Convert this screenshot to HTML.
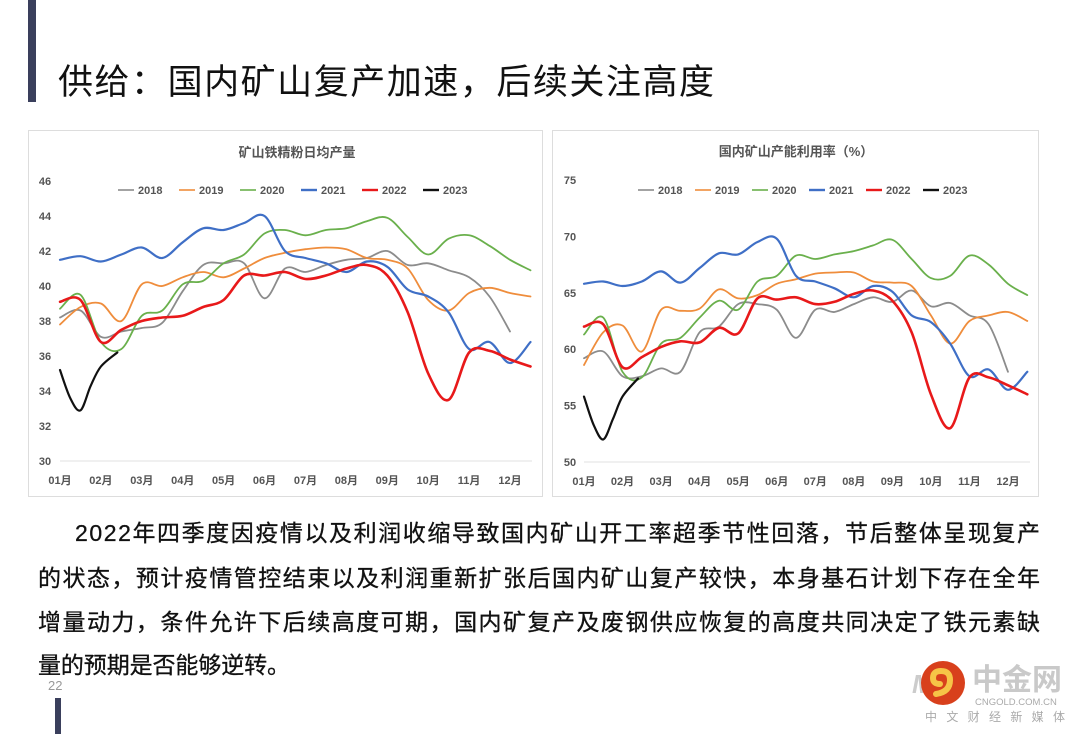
<!DOCTYPE html>
<html><head><meta charset="utf-8">
<style>
html,body{margin:0;padding:0;background:#fff;}
svg{display:block;font-family:"Liberation Sans","Noto Sans CJK SC",sans-serif;}
</style></head>
<body>
<svg id="page" width="1080" height="734" viewBox="0 0 1080 734">
  <rect x="28" y="0" width="8" height="102" fill="#3a3f5c"/>
  <text x="58" y="94" font-size="35" fill="#111" textLength="656">供给：国内矿山复产加速，后续关注高度</text>

  <rect x="28.5" y="130.5" width="514" height="366" fill="#fff" stroke="#ddd"/>
  <rect x="552.5" y="130.5" width="486" height="366" fill="#fff" stroke="#ddd"/>
  <g id="leftChart"></g>
  <g id="rightChart"></g>

  <g font-size="23" fill="#111" stroke="#111" stroke-width="0.3">
    <text x="75" y="541" textLength="965" lengthAdjust="spacing">2022年四季度因疫情以及利润收缩导致国内矿山开工率超季节性回落，节后整体呈现复产</text>
    <text x="38" y="586" textLength="1002" lengthAdjust="spacing">的状态，预计疫情管控结束以及利润重新扩张后国内矿山复产较快，本身基石计划下存在全年</text>
    <text x="38" y="630" textLength="1002" lengthAdjust="spacing">增量动力，条件允许下后续高度可期，国内矿复产及废钢供应恢复的高度共同决定了铁元素缺</text>
    <text x="38" y="673" textLength="252" lengthAdjust="spacing">量的预期是否能够逆转。</text>
  </g>
  <text x="48" y="690" font-size="13" fill="#999">22</text>
  <rect x="55" y="698" width="6" height="36" fill="#3a3f5c"/>

  <g>
    <text x="912" y="693" font-size="26" font-style="italic" font-weight="bold" fill="#ccc">M</text>
    <circle cx="943" cy="683" r="22" fill="#d8401c"/>
    <path d="M936 694 q14 -2 14 -14 q0 -9 -9 -9 q-8 0 -8 7 q0 6 7 6" fill="none" stroke="#f6c447" stroke-width="6" stroke-linecap="round"/>
    <text x="972" y="690" font-size="30" font-weight="bold" fill="#c9c9c9">中金网</text>
    <text x="975" y="705" font-size="9.5" fill="#aaa">CNGOLD.COM.CN</text>
    <text x="925" y="721" font-size="12" fill="#aaa" textLength="140">中文财经新媒体</text>
  </g>
</svg>

<script>
// ---------- data: left chart (矿山铁精粉日均产量) ----------
const months = ["01月","02月","03月","04月","05月","06月","07月","08月","09月","10月","11月","12月"];
const seriesNames = ["2018","2019","2020","2021","2022","2023"];
const seriesColors = ["#8c8c8c","#ef8d3c","#6ab04c","#3f6fc6","#e8191a","#111111"];
const seriesWidths = [1.8,1.8,1.8,2.2,2.6,2.2];
const halfMonthX = [0,0.5,1,1.5,2,2.5,3,3.5,4,4.5,5,5.5,6,6.5,7,7.5,8,8.5,9,9.5,10,10.5,11,11.5];
const x2023 = [0,0.25,0.5,0.75,1,1.4];

const leftTicks = [30,32,34,36,38,40,42,44,46];
const left2018 = [38.2,38.6,37.1,37.4,37.6,37.9,39.7,41.2,41.3,41.3,39.3,41.0,40.8,41.2,41.5,41.6,42.0,41.2,41.3,40.9,40.5,39.4,37.4];
const left2019 = [37.8,38.8,39.0,38.0,40.1,40.0,40.5,40.8,40.5,41.0,41.6,41.9,42.1,42.2,42.1,41.6,41.5,41.0,39.2,38.6,39.6,39.9,39.6,39.4];
const left2020 = [38.7,39.5,36.8,36.4,38.3,38.6,40.1,40.3,41.3,41.8,43.0,43.2,42.9,43.2,43.3,43.7,43.9,42.8,41.8,42.7,42.9,42.3,41.5,40.9];
const left2021 = [41.5,41.7,41.4,41.8,42.2,41.6,42.5,43.3,43.2,43.6,44.0,42.0,41.6,41.3,40.8,41.4,41.1,39.8,39.4,38.5,36.4,36.8,35.6,36.8];
const left2022 = [39.1,39.2,36.8,37.5,38.0,38.2,38.3,38.8,39.2,40.6,40.6,40.8,40.4,40.6,41.0,41.2,40.6,38.5,35.0,33.5,36.2,36.3,35.8,35.4];
const left2023 = [35.2,33.6,32.9,34.3,35.4,36.2];

// ---------- data: right chart (国内矿山产能利用率 %) ----------
const rightTicks = [50,55,60,65,70,75];
const right2018 = [59.2,59.8,57.6,57.6,58.3,58.0,61.5,62.0,64.0,64.0,63.5,61.0,63.5,63.3,64.0,64.6,64.2,65.2,63.8,64.1,63.0,62.2,58.0];
const right2019 = [58.6,61.5,62.1,59.8,63.5,63.4,63.6,65.3,64.5,64.8,65.8,66.2,66.7,66.8,66.8,66.0,65.9,65.6,63.0,60.5,62.5,63.0,63.3,62.5];
const right2020 = [61.3,62.8,58.0,57.5,60.5,61.0,62.8,64.3,63.5,66.0,66.5,68.3,68.0,68.4,68.7,69.2,69.7,68.0,66.3,66.5,68.3,67.5,65.8,64.8];
const right2021 = [65.8,66.0,65.6,66.0,66.9,65.9,67.2,68.5,68.4,69.5,69.8,66.5,66.0,65.4,64.6,65.6,65.1,63.0,62.4,60.5,57.6,58.2,56.4,58.0];
const right2022 = [62.0,62.2,58.4,59.3,60.2,60.7,60.6,61.9,61.4,64.5,64.4,64.6,64.0,64.2,64.9,65.2,64.3,61.5,56.0,53.0,57.5,57.5,56.8,56.0];
const right2023 = [55.8,53.3,52.0,53.8,55.8,57.4];

const NS = "http://www.w3.org/2000/svg";
function mk(tag, attrs, parent){
  const e = document.createElementNS(NS, tag);
  for (const k in attrs) e.setAttribute(k, attrs[k]);
  parent.appendChild(e);
  return e;
}
function smoothPath(pts){
  let d = "M" + pts[0][0].toFixed(1) + " " + pts[0][1].toFixed(1);
  for (let i = 0; i < pts.length - 1; i++){
    const p0 = pts[i-1] || pts[i], p1 = pts[i], p2 = pts[i+1], p3 = pts[i+2] || p2;
    const c1x = p1[0] + (p2[0]-p0[0])/6, c1y = p1[1] + (p2[1]-p0[1])/6;
    const c2x = p2[0] - (p3[0]-p1[0])/6, c2y = p2[1] - (p3[1]-p1[1])/6;
    d += " C" + c1x.toFixed(1) + " " + c1y.toFixed(1) + " " + c2x.toFixed(1) + " " + c2y.toFixed(1) + " " + p2[0].toFixed(1) + " " + p2[1].toFixed(1);
  }
  return d;
}

function drawChart(g, cfg){
  const xScale = m => cfg.x0 + m * (cfg.x11 - cfg.x0) / 11;
  const yScale = v => cfg.yBot - (v - cfg.vMin) * (cfg.yBot - cfg.yTop) / (cfg.vMax - cfg.vMin);

  const title = mk("text", {x: cfg.titleX, y: cfg.yTop - 24, "font-size": 13, "font-weight": "bold", fill: "#555", "text-anchor": "middle"}, g);
  
  
  title.textContent = cfg.title;

  const ax = mk("line", {x1: cfg.x0, x2: cfg.xEnd, y1: cfg.yBot, y2: cfg.yBot, stroke: "#e2e2e2", "stroke-width": 1}, g);
  
  

  cfg.ticks.forEach(t => {
    const tl = mk("text", {x: cfg.tickX, y: yScale(t) + 4, "font-size": 11, "font-weight": "bold", fill: "#555", "text-anchor": "middle"}, g);
    
    
    tl.textContent = t;
  });
  months.forEach((m, i) => {
    const tl = mk("text", {x: xScale(i), y: cfg.yBot + 23, "font-size": 11, "font-weight": "bold", fill: "#555", "text-anchor": "middle"}, g);
    
    
    tl.textContent = m;
  });

  seriesNames.forEach((n, i) => {
    const lx = cfg.legX + i * cfg.legStep;
    const lg = mk("g", {}, g);
    
    
    mk("line", {x1: lx, x2: lx + 16, y1: cfg.legY - 4, y2: cfg.legY - 4, stroke: seriesColors[i], "stroke-width": i >= 3 ? 2.4 : 1.6}, lg);
    const t = mk("text", {x: lx + 20, y: cfg.legY, "font-size": 11, "font-weight": "bold", fill: "#555"}, lg);
    t.textContent = n;
  });

  cfg.series.forEach((vals, i) => {
    const xs = i === 5 ? x2023 : halfMonthX;
    const pts = vals.map((v, j) => [xScale(xs[j]), yScale(v)]);
    const p = mk("path", {d: smoothPath(pts), fill: "none", stroke: seriesColors[i], "stroke-width": seriesWidths[i], "stroke-linejoin": "round", "stroke-linecap": "round"}, g);
    
    
  });
}

drawChart(document.getElementById("leftChart"), {
  title: "矿山铁精粉日均产量", titleX: 297,
  x0: 60, x11: 510, xEnd: 532, yTop: 181, yBot: 461, vMin: 30, vMax: 46,
  tickX: 45, ticks: leftTicks, legX: 118, legStep: 61, legY: 194,
  series: [left2018, left2019, left2020, left2021, left2022, left2023]
});
drawChart(document.getElementById("rightChart"), {
  title: "国内矿山产能利用率（%）", titleX: 796,
  x0: 584, x11: 1008, xEnd: 1030, yTop: 180, yBot: 462, vMin: 50, vMax: 75,
  tickX: 570, ticks: rightTicks, legX: 638, legStep: 57, legY: 194,
  series: [right2018, right2019, right2020, right2021, right2022, right2023]
});
</script>
</body></html>
